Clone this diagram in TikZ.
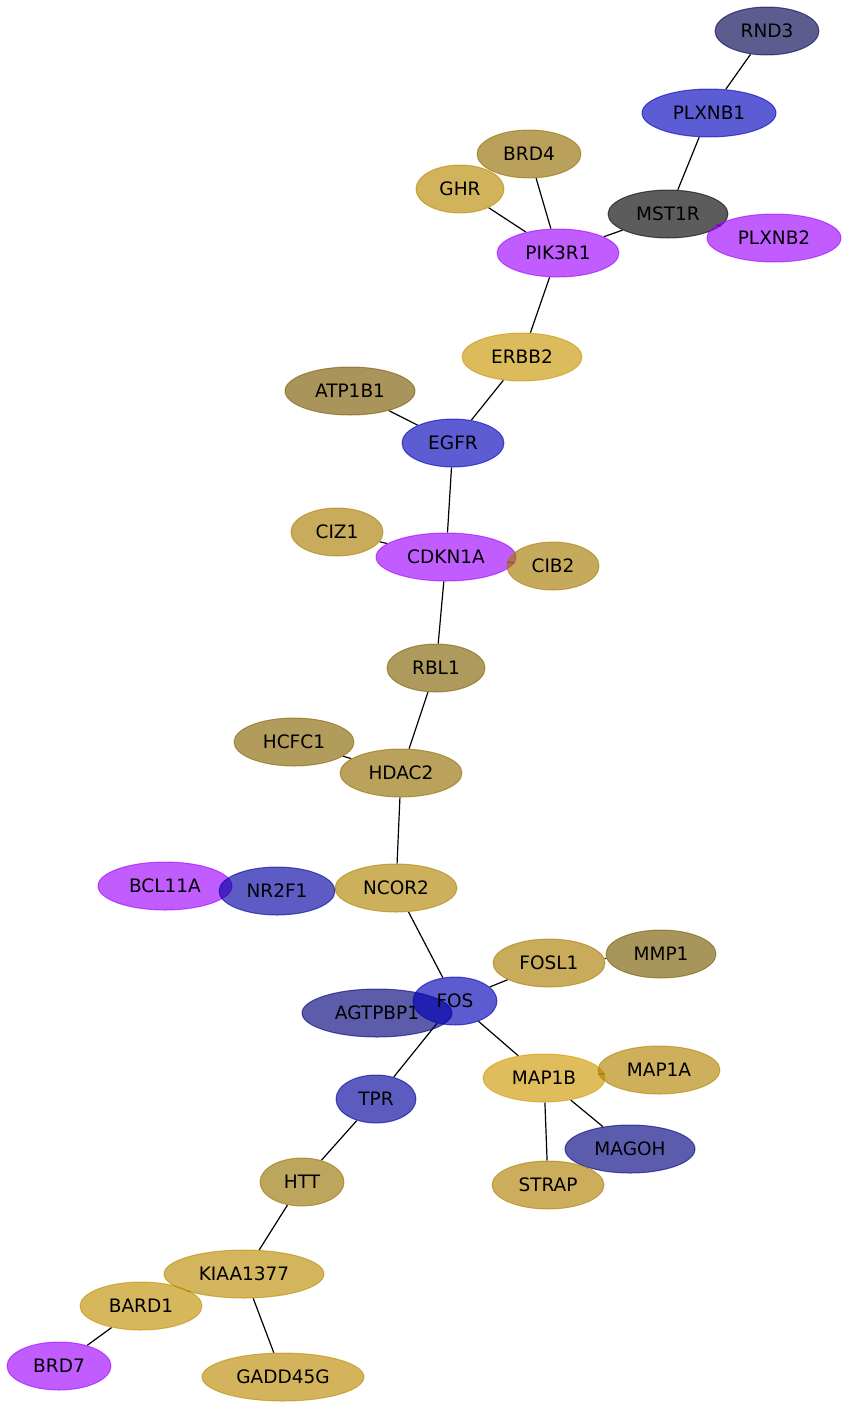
\documentclass[tikz,border=0pt]{standalone}
\usepackage{fontspec}
\setmainfont{DejaVu Sans}
\usetikzlibrary{shapes.geometric,backgrounds}
% node colours
\definecolor{cRND}{RGB}{0,0,80}
\definecolor{cPLXa}{RGB}{0,0,190}
\definecolor{cBRDf}{RGB}{145,108,0}
\definecolor{cGHR}{RGB}{183,136,0}
\definecolor{cMST}{RGB}{0,0,0}
\definecolor{cViolet}{RGB}{158,0,255}
\definecolor{cERB}{RGB}{200,148,0}
\definecolor{cATP}{RGB}{120,89,0}
\definecolor{cEGF}{RGB}{0,0,186}
\definecolor{cCIZ}{RGB}{169,125,0}
\definecolor{cCIB}{RGB}{166,122,0}
\definecolor{cRBL}{RGB}{128,97,0}
\definecolor{cHCF}{RGB}{133,100,0}
\definecolor{cHDA}{RGB}{147,109,0}
\definecolor{cNRF}{RGB}{0,0,162}
\definecolor{cNCO}{RGB}{175,131,0}
\definecolor{cFSL}{RGB}{169,125,0}
\definecolor{cMMP}{RGB}{119,89,0}
\definecolor{cAGT}{RGB}{0,0,123}
\definecolor{cFOS}{RGB}{0,0,181}
\definecolor{cMBB}{RGB}{205,152,0}
\definecolor{cMBA}{RGB}{178,131,0}
\definecolor{cTPR}{RGB}{0,0,156}
\definecolor{cMAG}{RGB}{0,0,128}
\definecolor{cSTR}{RGB}{173,127,0}
\definecolor{cHTT}{RGB}{150,114,0}
\definecolor{cKIA}{RGB}{184,139,0}
\definecolor{cBRA}{RGB}{191,142,0}
\definecolor{cGAD}{RGB}{186,137,0}
\tikzset{
  gene/.style={ellipse, fill=#1, draw=#1, fill opacity=0.64, draw opacity=0.6,
    text opacity=1, line width=1pt, minimum height=48pt, inner sep=0pt,
    font=\fontsize{18.5}{18.5}\selectfont},
  link/.style={line width=1.2pt, black}
}
\begin{document}
\begin{tikzpicture}[x=1pt, y=-1pt, line join=round, line cap=round]
\useasboundingbox (0,0) rectangle (848,1408);

\node[gene=cRND, minimum width=104pt] (RND3) at (767,31) {RND3};
\node[gene=cPLXa, minimum width=134pt] (PLXNB1) at (709,113) {PLXNB1};
\node[gene=cBRDf, minimum width=104pt] (BRD4) at (529,154) {BRD4};
\node[gene=cGHR, minimum width=88pt] (GHR) at (460,189) {GHR};
\node[gene=cMST, minimum width=120pt] (MST1R) at (668,214) {MST1R};
\node[gene=cViolet, minimum width=134pt] (PLXNB2) at (774,238) {PLXNB2};
\node[gene=cViolet, minimum width=122pt] (PIK3R1) at (558,253) {PIK3R1};
\node[gene=cERB, minimum width=120pt] (ERBB2) at (522,357) {ERBB2};
\node[gene=cATP, minimum width=130pt] (ATP1B1) at (350,391) {ATP1B1};
\node[gene=cEGF, minimum width=102pt] (EGFR) at (453,443) {EGFR};
\node[gene=cCIZ, minimum width=92pt] (CIZ1) at (337,532) {CIZ1};
\node[gene=cViolet, minimum width=140pt] (CDKN1A) at (446,557) {CDKN1A};
\node[gene=cCIB, minimum width=92pt] (CIB2) at (553,566) {CIB2};
\node[gene=cRBL, minimum width=98pt] (RBL1) at (436,668) {RBL1};
\node[gene=cHCF, minimum width=120pt] (HCFC1) at (294,742) {HCFC1};
\node[gene=cHDA, minimum width=122pt] (HDAC2) at (401,773) {HDAC2};
\node[gene=cViolet, minimum width=134pt] (BCL11A) at (165,886) {BCL11A};
\node[gene=cNRF, minimum width=116pt] (NR2F1) at (277,891) {NR2F1};
\node[gene=cNCO, minimum width=122pt] (NCOR2) at (396,888) {NCOR2};
\node[gene=cFSL, minimum width=112pt] (FOSL1) at (549,963) {FOSL1};
\node[gene=cMMP, minimum width=110pt] (MMP1) at (661,954) {MMP1};
\node[gene=cAGT, minimum width=150pt] (AGTPBP1) at (377,1013) {AGTPBP1};
\node[gene=cFOS, minimum width=84pt] (FOS) at (455,1001) {FOS};
\node[gene=cMBB, minimum width=122pt] (MAP1B) at (544,1078) {MAP1B};
\node[gene=cMBA, minimum width=122pt] (MAP1A) at (659,1070) {MAP1A};
\node[gene=cTPR, minimum width=80pt] (TPR) at (376,1099) {TPR};
\node[gene=cMAG, minimum width=130pt] (MAGOH) at (630,1149) {MAGOH};
\node[gene=cSTR, minimum width=112pt] (STRAP) at (548,1185) {STRAP};
\node[gene=cHTT, minimum width=84pt] (HTT) at (302,1182) {HTT};
\node[gene=cKIA, minimum width=160pt] (KIAA1377) at (244,1274) {KIAA1377};
\node[gene=cBRA, minimum width=122pt] (BARD1) at (141,1306) {BARD1};
\node[gene=cViolet, minimum width=104pt] (BRD7) at (59,1366) {BRD7};
\node[gene=cGAD, minimum width=162pt] (GADD45G) at (283,1377) {GADD45G};

\begin{scope}[on background layer]
\foreach \a/\b in {RND3/PLXNB1, PLXNB1/MST1R, MST1R/PIK3R1, MST1R/PLXNB2,
    BRD4/PIK3R1, GHR/PIK3R1, PIK3R1/ERBB2, ERBB2/EGFR, ATP1B1/EGFR,
    EGFR/CDKN1A, CIZ1/CDKN1A, CDKN1A/CIB2, CDKN1A/RBL1, RBL1/HDAC2,
    HCFC1/HDAC2, HDAC2/NCOR2, NR2F1/NCOR2, NCOR2/FOS,
    FOS/FOSL1, FOSL1/MMP1, FOS/MAP1B, FOS/TPR, MAP1B/MAP1A,
    MAP1B/MAGOH, MAP1B/STRAP, TPR/HTT, HTT/KIAA1377, KIAA1377/BARD1,
    KIAA1377/GADD45G, BARD1/BRD7}
    \draw[link] (\a) -- (\b);
\end{scope}
\end{tikzpicture}
\end{document}
